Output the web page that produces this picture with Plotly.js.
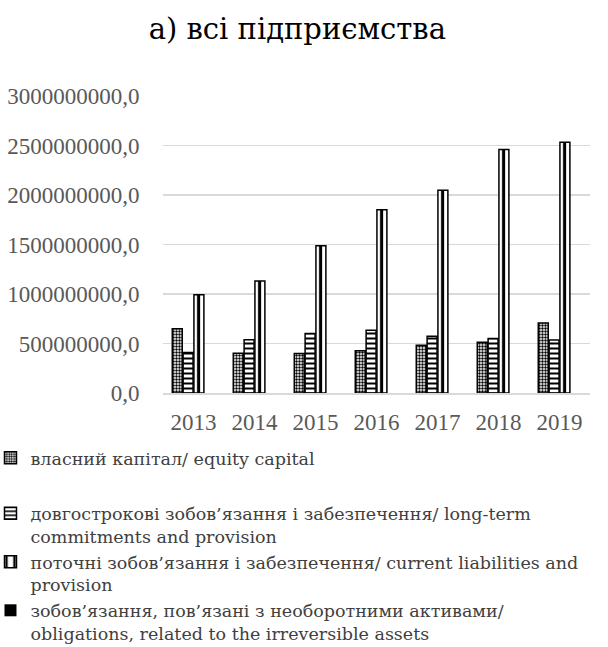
<!DOCTYPE html>
<html>
<head>
<meta charset="utf-8">
<script src="https://cdn.plot.ly/plotly-3.0.1.min.js"></script>
<style>html,body{margin:0;padding:0;background:#fff;}#chart{width:608px;height:647px;}</style>
</head>
<body>
<div id="chart"></div>
<script>
const years = ['2013','2014','2015','2016','2017','2018','2019'];
const equityCapital = [649000000, 402000000, 399000000, 426000000, 483000000, 513000000, 708000000];
const longTermCommitments = [409000000, 537000000, 601000000, 635000000, 574000000, 550000000, 536000000];
const currentLiabilities = [993000000, 1132000000, 1487000000, 1852000000, 2047000000, 2460000000, 2534000000];
const irreversibleObligations = [0, 0, 0, 0, 0, 0, 0];
const seriesNames = [
  'власний капітал/ equity capital<br> ',
  'довгострокові зобов’язання і забезпечення/ long-term<br>commitments and provision',
  'поточні зобов’язання і забезпечення/ current liabilities and<br>provision',
  'зобов’язання, пов’язані з необоротними активами/<br>obligations, related to the irreversible assets'
];
const yTicks = [0, 500000000, 1000000000, 1500000000, 2000000000, 2500000000, 3000000000];
const yTickText = ['0,0','500000000,0','1000000000,0','1500000000,0','2000000000,0','2500000000,0','3000000000,0'];

const SERIF = 'Liberation Serif';
const CYR_SERIF = 'DejaVu Serif';
const line = {color: '#000', width: 1.5};
const traces = [
  {x: years, y: equityCapital, name: seriesNames[0], type: 'bar', legendgroup: 'first',
   marker: {color: '#fff', line: line, pattern: {shape: '.', fgcolor: '#000', bgcolor: '#fff', size: 3, solidity: 0.5}}},
  {x: years, y: longTermCommitments, name: seriesNames[1], type: 'bar', legendgroup: 'rest',
   marker: {color: '#fff', line: line, pattern: {shape: '-', fgcolor: '#000', bgcolor: '#fff', size: 5, solidity: 0.4}}},
  {x: years, y: currentLiabilities, name: seriesNames[2], type: 'bar', legendgroup: 'rest',
   marker: {color: '#fff', line: line, pattern: {shape: '|', fgcolor: '#000', bgcolor: '#fff', size: 61/6, solidity: 0.3}}},
  {x: years, y: irreversibleObligations, name: seriesNames[3], type: 'bar', legendgroup: 'rest',
   marker: {color: '#000', line: {color: '#000', width: 0}}}
];

const layout = {
  width: 608, height: 647,
  paper_bgcolor: '#fff', plot_bgcolor: '#fff',
  font: {family: SERIF, color: '#595959'},
  title: {text: 'а) всі підприємства', font: {family: CYR_SERIF, size: 29, color: '#000'}, x: 0.489, xanchor: 'center', y: 0.956, yanchor: 'middle'},
  margin: {l: 163, r: 18, t: 96, b: 254, autoexpand: false},
  barmode: 'group', bargap: 0.29, bargroupgap: 0.08,
  xaxis: {type: 'category', tickfont: {family: SERIF, size: 23, color: '#595959'}, showline: true, linecolor: '#d9d9d9', linewidth: 1.5,
          ticks: 'outside', ticklen: 8, tickcolor: '#fff', showgrid: false},
  yaxis: {range: [0, 3000000000], tickvals: yTicks, ticktext: yTickText, tickfont: {family: SERIF, size: 23, color: '#595959'},
          showgrid: true, gridcolor: '#d9d9d9', gridwidth: 1.5, zeroline: false, ticks: 'outside', ticklen: 18, tickcolor: '#fff', showline: false},
  showlegend: true,
  legend: {orientation: 'v', x: -0.404, xanchor: 'left', y: -0.158, yanchor: 'top', font: {family: CYR_SERIF, size: 17.5, color: '#404040'},
           valign: 'top', tracegroupgap: 7, itemwidth: 30, traceorder: 'grouped', bgcolor: 'rgba(0,0,0,0)'}
};

Plotly.newPlot('chart', traces, layout, {displayModeBar: false, staticPlot: true});
</script>
</body>
</html>
